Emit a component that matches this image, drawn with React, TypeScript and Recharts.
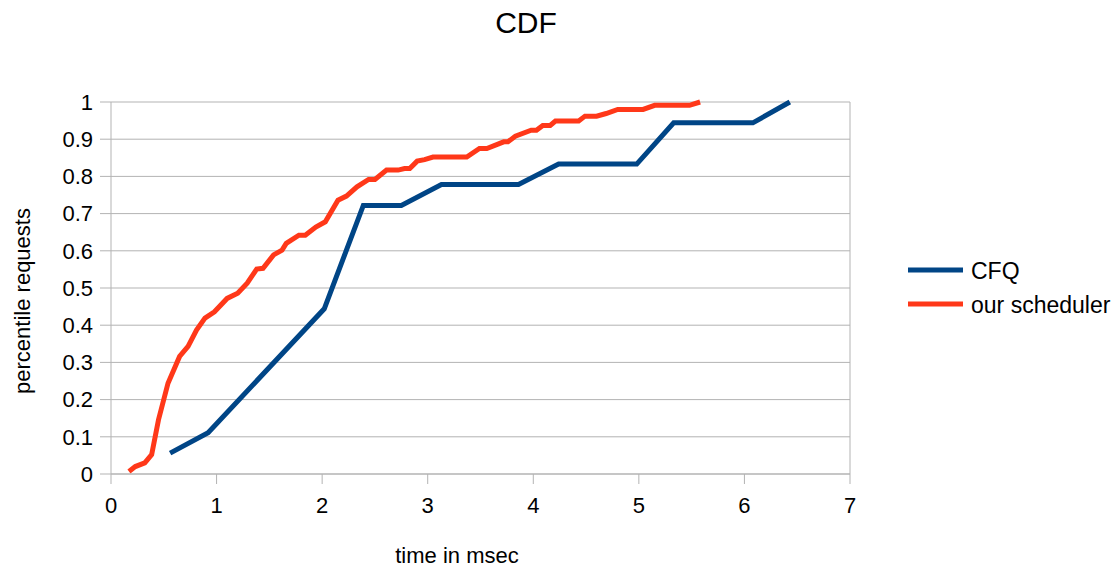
import React from 'react';
import { LineChart, Line, XAxis, YAxis, CartesianGrid, ReferenceLine } from 'recharts';

const cfqTime = [0.56, 0.92, 2.02, 2.39, 2.75, 3.13, 3.86, 4.24, 4.98, 5.33, 6.08, 6.43];
const cfqValue = [0.056, 0.111, 0.444, 0.722, 0.722, 0.778, 0.778, 0.833, 0.833, 0.944, 0.944, 1.0];

const oursTime = [
  0.17, 0.23, 0.32, 0.385, 0.45, 0.54, 0.65, 0.73, 0.81, 0.89, 0.98, 1.1, 1.2, 1.29, 1.38, 1.44,
  1.54, 1.62, 1.66, 1.78, 1.84, 1.94, 2.03, 2.15, 2.23, 2.33, 2.44, 2.5, 2.61, 2.72, 2.78, 2.83,
  2.9, 2.97, 3.05, 3.37, 3.49, 3.56, 3.72, 3.76, 3.83, 3.98, 4.03, 4.09, 4.16, 4.21, 4.43, 4.49,
  4.6, 4.69, 4.8, 5.04, 5.15, 5.48, 5.58,
];
const oursValue = [
  0.007, 0.02, 0.03, 0.052, 0.146, 0.244, 0.316, 0.343, 0.387, 0.419, 0.436, 0.472, 0.486, 0.513, 0.551, 0.553,
  0.589, 0.602, 0.62, 0.642, 0.642, 0.664, 0.678, 0.736, 0.747, 0.772, 0.792, 0.792, 0.817, 0.817, 0.821, 0.821,
  0.841, 0.845, 0.852, 0.852, 0.875, 0.875, 0.893, 0.893, 0.908, 0.924, 0.924, 0.937, 0.937, 0.949, 0.949, 0.962,
  0.962, 0.969, 0.98, 0.98, 0.991, 0.991, 1.0,
];

const xTicks = [0, 1, 2, 3, 4, 5, 6, 7];
const yTicks = [0, 0.1, 0.2, 0.3, 0.4, 0.5, 0.6, 0.7, 0.8, 0.9, 1];

const seriesNames = ['CFQ', 'our scheduler'];
const seriesColors = ['#004586', '#ff3819'];

const FONT = '"Liberation Sans", Arial, sans-serif';
const GRID = '#b3b3b3';

const cfqData = cfqTime.map((t, i) => ({ t, v: cfqValue[i] }));
const oursData = oursTime.map((t, i) => ({ t, v: oursValue[i] }));

export default function App() {
  const tickStyle = { fill: '#000', fontSize: 22, fontFamily: FONT };
  return (
    <div style={{ position: 'absolute', left: 0, top: 0, width: 1120, height: 567, background: '#fff' }}>
      <LineChart width={1120} height={567} margin={{ top: 102, right: 270, bottom: 0, left: 0 }}>
        <CartesianGrid vertical={false} stroke={GRID} />
        <XAxis
          type="number"
          dataKey="t"
          domain={[0, 7]}
          ticks={xTicks}
          height={93}
          stroke={GRID}
          tickSize={10}
          tickMargin={13}
          tick={tickStyle}
          allowDuplicatedCategory={false}
        />
        <YAxis
          type="number"
          domain={[0, 1]}
          ticks={yTicks}
          width={111}
          stroke={GRID}
          tickSize={11}
          tickMargin={7}
          tick={tickStyle}
        />
        <ReferenceLine x={7} stroke={GRID} />
        <Line
          data={cfqData}
          dataKey="v"
          name={seriesNames[0]}
          stroke={seriesColors[0]}
          strokeWidth={5}
          dot={false}
          type="linear"
          isAnimationActive={false}
        />
        <Line
          data={oursData}
          dataKey="v"
          name={seriesNames[1]}
          stroke={seriesColors[1]}
          strokeWidth={5}
          dot={false}
          type="linear"
          isAnimationActive={false}
        />
        <text x={526} y={33} textAnchor="middle" fontSize={30} fontFamily={FONT} fill="#000">CDF</text>
        <text x={457} y={563} textAnchor="middle" fontSize={22} fontFamily={FONT} fill="#000">time in msec</text>
        <text transform="translate(30,301) rotate(-90)" textAnchor="middle" fontSize={22} fontFamily={FONT} fill="#000">
          percentile requests
        </text>
        {seriesNames.map((name, i) => (
          <g key={name}>
            <line x1={908} x2={963} y1={270 + i * 34} y2={270 + i * 34} stroke={seriesColors[i]} strokeWidth={5} />
            <text x={971} y={279 + i * 34} fontSize={23} fontFamily={FONT} fill="#000">{name}</text>
          </g>
        ))}
      </LineChart>
    </div>
  );
}
